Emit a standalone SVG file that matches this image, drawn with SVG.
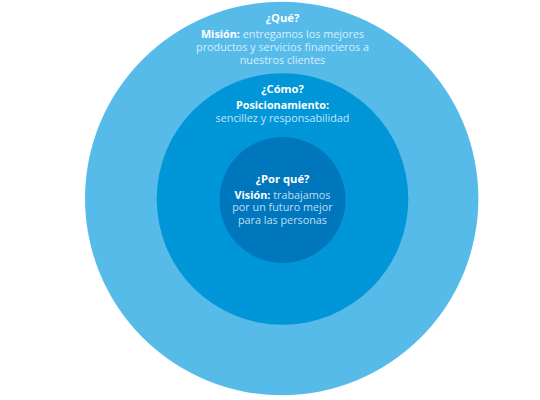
<svg xmlns="http://www.w3.org/2000/svg" width="540" height="400" viewBox="0 0 540 400">
<style>
text{font-family:"Open Sans","Liberation Sans",sans-serif;font-size:10.8px;text-anchor:middle}
.h{font-weight:700;fill:#ffffff;font-size:11.2px}
.b{font-weight:700;fill:#ffffff}
.l1{fill:#d6effb}
.l2{fill:#c4e6f8}
.l3{fill:#bfdff3}
</style>
<rect width="540" height="400" fill="#ffffff"/>
<g id="outer">
<circle cx="281.7" cy="198.5" r="196.7" fill="#57bbea"/>
<text x="282.5" y="22" class="h">¿Qué?</text>
<text x="282.5" y="38" class="l1"><tspan class="b">Misión:</tspan> entregamos los mejores</text>
<text x="282.5" y="51" class="l1">productos y servicios financieros a</text>
<text x="282.5" y="63.5" class="l1">nuestros clientes</text>
</g>
<g id="middle">
<circle cx="282.5" cy="199" r="125.8" fill="#0096d8"/>
<text x="282.5" y="93" class="h">¿Cómo?</text>
<text x="282.5" y="109" class="b">Posicionamiento:</text>
<text x="282.5" y="121.5" class="l2">sencillez y responsabilidad</text>
</g>
<g id="inner">
<circle cx="282.5" cy="200" r="63" fill="#0077bd"/>
<text x="282.5" y="182.5" class="h">¿Por qué?</text>
<text x="282.5" y="198.5" class="l3"><tspan class="b">Visión:</tspan> trabajamos</text>
<text x="282.5" y="211" class="l3">por un futuro mejor</text>
<text x="282.5" y="224" class="l3">para las personas</text>
</g>
</svg>
